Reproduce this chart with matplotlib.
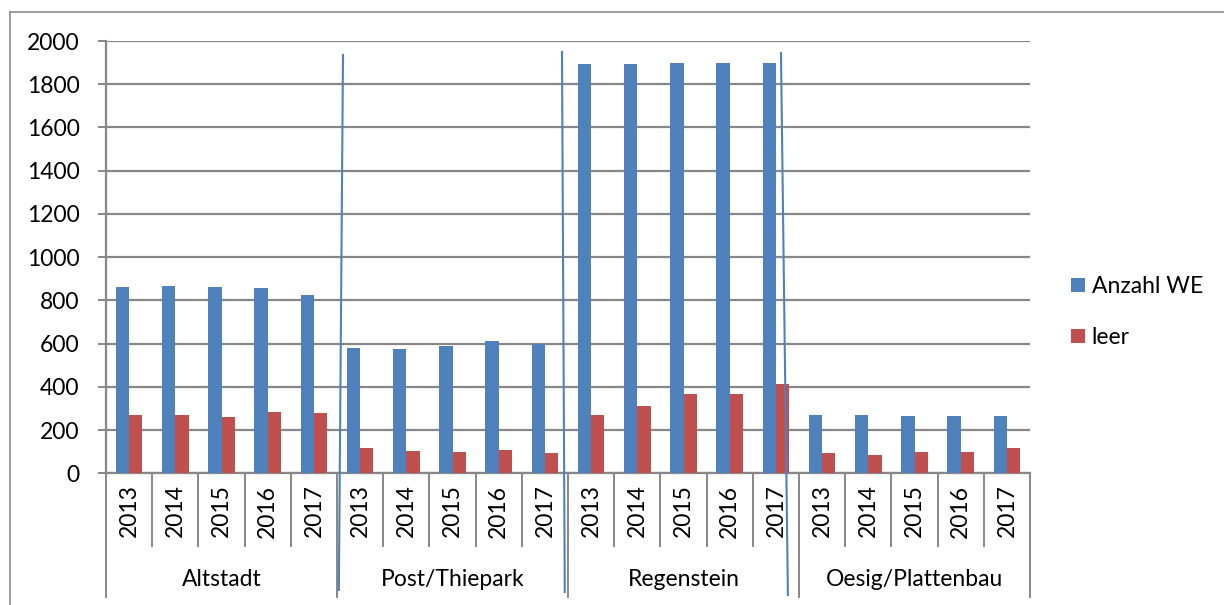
import matplotlib
matplotlib.use("Agg")
import matplotlib.pyplot as plt
import numpy as np
from matplotlib.lines import Line2D

plt.rcParams['font.family'] = ['Lato', 'DejaVu Sans']

groups = ["Altstadt", "Post/Thiepark", "Regenstein", "Oesig/Plattenbau"]
years = ["2013", "2014", "2015", "2016", "2017"]
anzahl_we = [862, 866, 862, 855, 823,
             580, 577, 589, 611, 600,
             1895, 1892, 1897, 1897, 1897,
             269, 269, 267, 267, 267]
leer = [272, 268, 262, 282, 277,
        115, 103, 100, 108, 95,
        271, 312, 369, 369, 412,
        94, 83, 98, 98, 116]
yticks = [0, 200, 400, 600, 800, 1000, 1200, 1400, 1600, 1800, 2000]

BLUE = "#4F81BD"
RED = "#C0504D"
GRID = "#878787"
FS = 16.5

W, H = 1224, 605
fig = plt.figure(figsize=(W / 100, H / 100), dpi=100)
ax = fig.add_axes([106 / W, 1 - 473.3 / H, (1030 - 106) / W, (473.3 - 41) / H])

n = len(anzahl_we)
x = np.arange(n)
bw = 0.29
ax.bar(x - bw / 2, anzahl_we, bw, color=BLUE, label="Anzahl WE", zorder=3)
ax.bar(x + bw / 2, leer, bw, color=RED, label="leer", zorder=3)

ax.set_xlim(-0.5, n - 0.5)
ax.set_ylim(0, 2000)
ax.set_yticks(yticks)
ax.set_yticklabels([str(v) for v in yticks], fontsize=FS)
ax.yaxis.grid(True, color=GRID, linewidth=1.6, zorder=0)
ax.tick_params(axis='y', length=6, width=1.4, color=GRID, pad=13)
ax.set_xticks([])
for s in ["top", "right"]:
    ax.spines[s].set_visible(False)
ax.spines["left"].set_color(GRID)
ax.spines["left"].set_linewidth(1.6)
ax.spines["bottom"].set_color(GRID)
ax.spines["bottom"].set_linewidth(1.6)

def yfrac(py):
    return (473.3 - py) / (473.3 - 41)

btrans = ax.get_xaxis_transform()
for i in range(n):
    ax.text(x[i], yfrac(511), years[i % len(years)], rotation=90, ha='center', va='center',
            fontsize=FS, transform=btrans, clip_on=False)
for i in range(n + 1):
    b = i - 0.5
    y_end = yfrac(597) if i % len(years) == 0 else yfrac(546)
    ax.add_line(Line2D([b, b], [0, y_end], transform=btrans, color=GRID, lw=1.4, clip_on=False))
for g, name in enumerate(groups):
    c = g * len(years) + (len(years) - 1) / 2
    ax.text(c, yfrac(580), name, ha='center', va='center', fontsize=FS,
            transform=btrans, clip_on=False)

# hand-drawn separators (annotation lines)
for (x0, y0, x1, y1) in [(4.63, 55, 4.54, 590), (9.37, 52, 9.43, 592), (14.11, 53, 14.26, 595)]:
    ax.add_line(Line2D([x0, x1], [yfrac(y0), yfrac(y1)], transform=btrans, color=BLUE,
                       lw=1.5, clip_on=False, zorder=5))

leg = fig.legend(loc='center left', bbox_to_anchor=(1071 / W, 1 - 312 / H), frameon=False,
                 fontsize=FS, handlelength=0.6, handleheight=0.6, handletextpad=0.3,
                 labelspacing=1.3, borderpad=0, borderaxespad=0)

fig.add_artist(Line2D([10 / W, 10 / W], [0, 1 - 12 / H], transform=fig.transFigure,
                      color="#8c8c8c", lw=1.2))
fig.add_artist(Line2D([10 / W, 1], [1 - 12 / H, 1 - 12 / H], transform=fig.transFigure,
                      color="#8c8c8c", lw=1.2))

fig.savefig("out.png", dpi=100)
